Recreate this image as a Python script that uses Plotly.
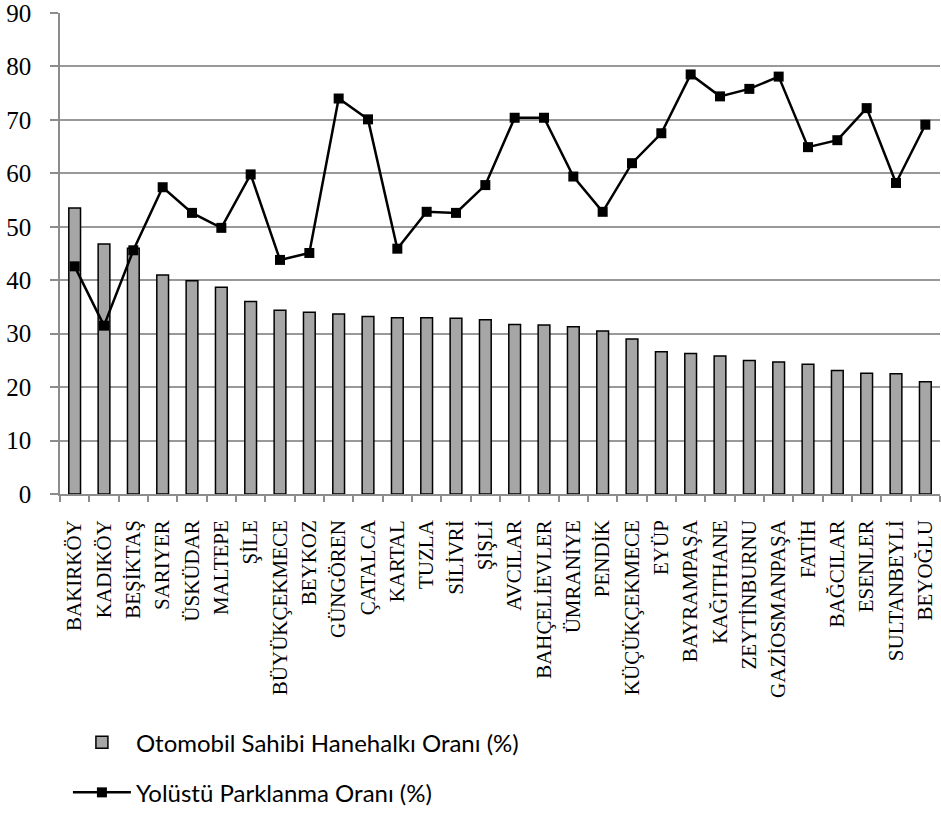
import plotly.graph_objects as go

districts = ["BAKIRKÖY", "KADIKÖY", "BEŞİKTAŞ", "SARIYER", "ÜSKÜDAR", "MALTEPE", "ŞİLE",
             "BÜYÜKÇEKMECE", "BEYKOZ", "GÜNGÖREN", "ÇATALCA", "KARTAL", "TUZLA", "SİLİVRİ",
             "ŞİŞLİ", "AVCILAR", "BAHÇELİEVLER", "ÜMRANİYE", "PENDİK", "KÜÇÜKÇEKMECE", "EYÜP",
             "BAYRAMPAŞA", "KAĞITHANE", "ZEYTİNBURNU", "GAZİOSMANPAŞA", "FATİH", "BAĞCILAR",
             "ESENLER", "SULTANBEYLİ", "BEYOĞLU"]

car_owner = [53.5, 46.8, 46.0, 41.0, 39.9, 38.7, 36.0, 34.4, 34.0, 33.7, 33.2, 33.0, 33.0, 32.9,
             32.6, 31.7, 31.6, 31.3, 30.5, 29.0, 26.6, 26.3, 25.8, 25.0, 24.7, 24.3, 23.1,
             22.6, 22.5, 21.0]

street_parking = [42.6, 31.5, 45.6, 57.4, 52.6, 49.8, 59.8, 43.8, 45.1, 74.0, 70.1, 45.9, 52.8,
                  52.6, 57.8, 70.4, 70.4, 59.4, 52.8, 61.9, 67.5, 78.5, 74.4, 75.8, 78.1, 64.9,
                  66.2, 72.2, 58.2, 69.1]

y_ticks = [0, 10, 20, 30, 40, 50, 60, 70, 80, 90]

SERIF = "Liberation Serif"

fig = go.Figure()
fig.add_trace(go.Bar(
    x=districts, y=car_owner, name="Otomobil Sahibi Hanehalkı Oranı (%)",
    marker=dict(color="#a6a6a6", line=dict(color="black", width=1.5)),
    width=0.4, legendgroup="a",
))
fig.add_trace(go.Scatter(
    x=districts, y=street_parking, name="Yolüstü Parklanma Oranı (%)",
    mode="lines+markers", line=dict(color="black", width=2.5),
    marker=dict(symbol="square", size=10, color="black"), legendgroup="b",
))

fig.update_layout(
    template="none",
    width=941, height=814,
    margin=dict(l=60, r=1, t=13, b=320, autoexpand=False),
    plot_bgcolor="white", paper_bgcolor="white",
    font=dict(family=SERIF, color="black", size=21),
    showlegend=True,
    legend=dict(x=0.009, xanchor="left", y=-0.47, yanchor="top",
                font=dict(family="Lato", size=24, color="black"),
                itemwidth=58,
                traceorder="grouped", tracegroupgap=16, bgcolor="rgba(0,0,0,0)"),
    bargap=0.6,
)
fig.update_xaxes(
    type="category", tickangle=-90, showgrid=False, automargin=False,
    tickmode="linear", tick0=0, dtick=1,
    showline=True, linecolor="#8c8c8c", linewidth=1.5,
    ticks="outside", tickson="boundaries", ticklen=6, tickcolor="#8c8c8c", tickwidth=1.5,
    tickfont=dict(family=SERIF, size=21, color="black"),
    ticklabelstandoff=16,
    range=[-0.5, len(districts) - 0.5],
)
fig.update_yaxes(
    range=[0, 90], tickvals=y_ticks, showgrid=True, gridcolor="#999999", gridwidth=1.5,
    showline=True, linecolor="#8c8c8c", linewidth=1.5, automargin=False,
    ticks="outside", ticklen=8, tickcolor="#8c8c8c", tickwidth=1.5,
    tickfont=dict(family=SERIF, size=25, color="black"),
    ticklabelstandoff=14, ticklabeloverflow="allow",
    zeroline=False,
)

fig.write_html("out.html")
